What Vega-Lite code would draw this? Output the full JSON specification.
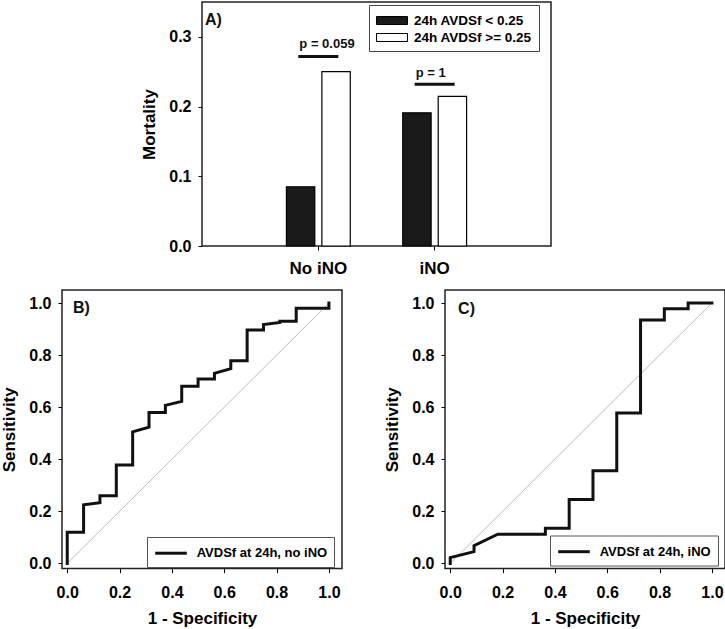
{
  "$schema": "https://vega.github.io/schema/vega-lite/v6.json",
  "padding": {"left": 0, "top": 1, "right": 0, "bottom": 0},
  "background": "white",
  "config": {
    "font": "Liberation Sans",
    "view": {"stroke": "#222222", "strokeWidth": 1.5},
    "axis": {
      "labelFont": "Liberation Sans", "labelFontWeight": "bold", "labelFontSize": 16, "labelColor": "black",
      "titleFont": "Liberation Sans", "titleFontWeight": "bold", "titleFontSize": 17, "titleColor": "black",
      "tickColor": "black", "tickSize": 4, "tickWidth": 1, "domain": false, "grid": false,
      "labelPadding": 7, "titlePadding": 10
    },
    "legend": {"labelFont": "Liberation Sans", "labelFontWeight": "bold", "labelColor": "black"}
  },
  "spacing": 12,
  "resolve": {"scale": {"fill": "independent", "stroke": "independent"}, "legend": {"fill": "independent", "stroke": "independent"}},
  "vconcat": [
    {
      "spacing": 0,
      "resolve": {"scale": {"fill": "independent"}, "legend": {"fill": "independent"}},
      "hconcat": [
        {"width": 78, "height": 10, "view": {"stroke": null}, "data": {"values": []}, "mark": {"type": "point", "opacity": 0}},
        {
          "width": 349, "height": 244,
          "title": {"text": "A)", "anchor": "start", "frame": "group", "orient": "top", "baseline": "middle",
                    "offset": -34, "dx": 3, "font": "Liberation Sans", "fontSize": 16, "fontWeight": "bold", "color": "#111111"},
          "layer": [
            {
              "data": {"values": [
                {"treatment": "No iNO", "group": "24h AVDSf < 0.25", "mortality": 0.085},
                {"treatment": "No iNO", "group": "24h AVDSf >= 0.25", "mortality": 0.25},
                {"treatment": "iNO", "group": "24h AVDSf < 0.25", "mortality": 0.191},
                {"treatment": "iNO", "group": "24h AVDSf >= 0.25", "mortality": 0.2145}
              ]},
              "mark": {"type": "bar", "stroke": "black", "strokeWidth": 1.2},
              "encoding": {
                "x": {"field": "treatment", "type": "nominal", "title": null,
                      "scale": {"domain": ["No iNO", "iNO"], "paddingInner": 0, "paddingOuter": 0.5},
                      "axis": {"labelAngle": 0, "labelFontSize": 17, "labelPadding": 10}},
                "xOffset": {"field": "group", "type": "nominal",
                      "scale": {"domain": ["24h AVDSf < 0.25", "24h AVDSf >= 0.25"], "paddingInner": 0.2, "paddingOuter": 0.74}},
                "y": {"field": "mortality", "type": "quantitative", "title": "Mortality",
                      "scale": {"domain": [0, 0.35], "nice": false},
                      "axis": {"values": [0, 0.1, 0.2, 0.3], "format": ".1f"}},
                "fill": {"field": "group", "type": "nominal",
                      "scale": {"domain": ["24h AVDSf < 0.25", "24h AVDSf >= 0.25"], "range": ["#1a1a1a", "#ffffff"]},
                      "legend": {"title": null, "orient": "none", "legendX": 167, "legendY": 3, "padding": 7,
                                 "strokeColor": "#444444", "fillColor": "white",
                                 "symbolType": "M-1,-0.5H2.875V0.5H-1Z", "symbolSize": 256,
                                 "symbolStrokeColor": "black", "symbolStrokeWidth": 1, "symbolOpacity": 1,
                                 "labelFontSize": 13.5, "labelOffset": 21, "rowPadding": 2}}
              }
            },
            {
              "data": {"values": [
                {"treatment": "No iNO", "line_y": 0.272, "label_y": 0.29, "label": "p = 0.059"},
                {"treatment": "iNO", "line_y": 0.232, "label_y": 0.248, "label": "p = 1"}
              ]},
              "mark": {"type": "tick", "thickness": 3, "size": 40, "color": "#111111", "opacity": 1},
              "encoding": {
                "x": {"field": "treatment", "type": "nominal", "title": null},
                "y": {"field": "line_y", "type": "quantitative", "title": "Mortality"}
              }
            },
            {
              "data": {"values": [
                {"treatment": "No iNO", "line_y": 0.272, "label_y": 0.29, "label": "p = 0.059"},
                {"treatment": "iNO", "line_y": 0.232, "label_y": 0.248, "label": "p = 1"}
              ]},
              "mark": {"type": "text", "align": "left", "baseline": "middle", "dx": -19, "fontSize": 13, "fontWeight": "bold", "font": "Liberation Sans", "color": "#111111"},
              "encoding": {
                "x": {"field": "treatment", "type": "nominal", "title": null},
                "y": {"field": "label_y", "type": "quantitative", "title": "Mortality"},
                "text": {"field": "label"}
              }
            }
          ]
        }
      ]
    },
    {
      "spacing": 40,
      "resolve": {"scale": {"stroke": "independent"}, "legend": {"stroke": "independent"}},
      "hconcat": [
        {
          "width": 280, "height": 278.6,
          "layer": [
            {
              "data": {"values": [{"fpr": 0, "tpr": 0}, {"fpr": 1, "tpr": 1}]},
              "mark": {"type": "line", "color": "#bdbdbd", "strokeWidth": 1},
              "encoding": {
                "x": {"field": "fpr", "type": "quantitative", "title": "1 - Specificity",
                      "scale": {"domain": [-0.02, 1.05], "nice": false, "zero": false},
                      "axis": {"values": [0, 0.2, 0.4, 0.6, 0.8, 1.0], "format": ".1f", "labelPadding": 12, "titlePadding": 10}},
                "y": {"field": "tpr", "type": "quantitative", "title": "Sensitivity",
                      "scale": {"domain": [-0.02, 1.05], "nice": false, "zero": false},
                      "axis": {"values": [0, 0.2, 0.4, 0.6, 0.8, 1.0], "format": ".1f"}}
              }
            },
            {
              "data": {"values": [
                {"i": 0, "fpr": 0, "tpr": 0, "series": "AVDSf at 24h, no iNO"},
                {"i": 1, "fpr": 0, "tpr": 0.12, "series": "AVDSf at 24h, no iNO"},
                {"i": 2, "fpr": 0.0625, "tpr": 0.12, "series": "AVDSf at 24h, no iNO"},
                {"i": 3, "fpr": 0.0625, "tpr": 0.225, "series": "AVDSf at 24h, no iNO"},
                {"i": 4, "fpr": 0.125, "tpr": 0.233, "series": "AVDSf at 24h, no iNO"},
                {"i": 5, "fpr": 0.125, "tpr": 0.26, "series": "AVDSf at 24h, no iNO"},
                {"i": 6, "fpr": 0.1875, "tpr": 0.26, "series": "AVDSf at 24h, no iNO"},
                {"i": 7, "fpr": 0.1875, "tpr": 0.378, "series": "AVDSf at 24h, no iNO"},
                {"i": 8, "fpr": 0.25, "tpr": 0.378, "series": "AVDSf at 24h, no iNO"},
                {"i": 9, "fpr": 0.25, "tpr": 0.505, "series": "AVDSf at 24h, no iNO"},
                {"i": 10, "fpr": 0.3125, "tpr": 0.523, "series": "AVDSf at 24h, no iNO"},
                {"i": 11, "fpr": 0.3125, "tpr": 0.58, "series": "AVDSf at 24h, no iNO"},
                {"i": 12, "fpr": 0.375, "tpr": 0.58, "series": "AVDSf at 24h, no iNO"},
                {"i": 13, "fpr": 0.375, "tpr": 0.607, "series": "AVDSf at 24h, no iNO"},
                {"i": 14, "fpr": 0.4375, "tpr": 0.622, "series": "AVDSf at 24h, no iNO"},
                {"i": 15, "fpr": 0.4375, "tpr": 0.68, "series": "AVDSf at 24h, no iNO"},
                {"i": 16, "fpr": 0.5, "tpr": 0.68, "series": "AVDSf at 24h, no iNO"},
                {"i": 17, "fpr": 0.5, "tpr": 0.708, "series": "AVDSf at 24h, no iNO"},
                {"i": 18, "fpr": 0.5625, "tpr": 0.708, "series": "AVDSf at 24h, no iNO"},
                {"i": 19, "fpr": 0.5625, "tpr": 0.73, "series": "AVDSf at 24h, no iNO"},
                {"i": 20, "fpr": 0.625, "tpr": 0.748, "series": "AVDSf at 24h, no iNO"},
                {"i": 21, "fpr": 0.625, "tpr": 0.778, "series": "AVDSf at 24h, no iNO"},
                {"i": 22, "fpr": 0.6875, "tpr": 0.778, "series": "AVDSf at 24h, no iNO"},
                {"i": 23, "fpr": 0.6875, "tpr": 0.896, "series": "AVDSf at 24h, no iNO"},
                {"i": 24, "fpr": 0.75, "tpr": 0.896, "series": "AVDSf at 24h, no iNO"},
                {"i": 25, "fpr": 0.75, "tpr": 0.917, "series": "AVDSf at 24h, no iNO"},
                {"i": 26, "fpr": 0.8125, "tpr": 0.925, "series": "AVDSf at 24h, no iNO"},
                {"i": 27, "fpr": 0.8125, "tpr": 0.93, "series": "AVDSf at 24h, no iNO"},
                {"i": 28, "fpr": 0.875, "tpr": 0.93, "series": "AVDSf at 24h, no iNO"},
                {"i": 29, "fpr": 0.875, "tpr": 0.98, "series": "AVDSf at 24h, no iNO"},
                {"i": 30, "fpr": 1.0, "tpr": 0.98, "series": "AVDSf at 24h, no iNO"},
                {"i": 31, "fpr": 1.0, "tpr": 1.0, "series": "AVDSf at 24h, no iNO"}
              ]},
              "mark": {"type": "line", "strokeWidth": 3, "strokeJoin": "miter", "strokeCap": "square"},
              "encoding": {
                "x": {"field": "fpr", "type": "quantitative", "title": "1 - Specificity"},
                "y": {"field": "tpr", "type": "quantitative", "title": "Sensitivity"},
                "order": {"field": "i", "type": "quantitative"},
                "stroke": {"field": "series", "type": "nominal", "scale": {"range": ["#111111"]},
                  "legend": {"title": null, "orient": "none", "legendX": 85, "legendY": 247, "padding": 6.7,
                             "strokeColor": "#555555", "fillColor": "white",
                             "symbolType": "M-1,0H2.95", "symbolSize": 256, "symbolStrokeWidth": 3,
                             "labelFontSize": 13, "labelOffset": 24}}
              }
            },
            {
              "data": {"values": [{"panel": "B)", "px": 0.022, "py": 0.98}]},
              "mark": {"type": "text", "align": "left", "baseline": "middle", "fontSize": 16, "fontWeight": "bold", "font": "Liberation Sans", "color": "#111111"},
              "encoding": {
                "x": {"field": "px", "type": "quantitative", "title": "1 - Specificity"},
                "y": {"field": "py", "type": "quantitative", "title": "Sensitivity"},
                "text": {"field": "panel"}
              }
            }
          ]
        },
        {
          "width": 280, "height": 278.6,
          "layer": [
            {
              "data": {"values": [{"fpr": 0, "tpr": 0}, {"fpr": 1, "tpr": 1}]},
              "mark": {"type": "line", "color": "#bdbdbd", "strokeWidth": 1},
              "encoding": {
                "x": {"field": "fpr", "type": "quantitative", "title": "1 - Specificity",
                      "scale": {"domain": [-0.02, 1.05], "nice": false, "zero": false},
                      "axis": {"values": [0, 0.2, 0.4, 0.6, 0.8, 1.0], "format": ".1f", "labelPadding": 12, "titlePadding": 10}},
                "y": {"field": "tpr", "type": "quantitative", "title": "Sensitivity",
                      "scale": {"domain": [-0.02, 1.05], "nice": false, "zero": false},
                      "axis": {"values": [0, 0.2, 0.4, 0.6, 0.8, 1.0], "format": ".1f"}}
              }
            },
            {
              "data": {"values": [
                {"i": 0, "fpr": 0, "tpr": 0, "series": "AVDSf at 24h, iNO"},
                {"i": 1, "fpr": 0, "tpr": 0.022, "series": "AVDSf at 24h, iNO"},
                {"i": 2, "fpr": 0.0909, "tpr": 0.045, "series": "AVDSf at 24h, iNO"},
                {"i": 3, "fpr": 0.0909, "tpr": 0.068, "series": "AVDSf at 24h, iNO"},
                {"i": 4, "fpr": 0.1818, "tpr": 0.112, "series": "AVDSf at 24h, iNO"},
                {"i": 5, "fpr": 0.3636, "tpr": 0.112, "series": "AVDSf at 24h, iNO"},
                {"i": 6, "fpr": 0.3636, "tpr": 0.135, "series": "AVDSf at 24h, iNO"},
                {"i": 7, "fpr": 0.4545, "tpr": 0.135, "series": "AVDSf at 24h, iNO"},
                {"i": 8, "fpr": 0.4545, "tpr": 0.245, "series": "AVDSf at 24h, iNO"},
                {"i": 9, "fpr": 0.5455, "tpr": 0.245, "series": "AVDSf at 24h, iNO"},
                {"i": 10, "fpr": 0.5455, "tpr": 0.356, "series": "AVDSf at 24h, iNO"},
                {"i": 11, "fpr": 0.6364, "tpr": 0.356, "series": "AVDSf at 24h, iNO"},
                {"i": 12, "fpr": 0.6364, "tpr": 0.578, "series": "AVDSf at 24h, iNO"},
                {"i": 13, "fpr": 0.7273, "tpr": 0.578, "series": "AVDSf at 24h, iNO"},
                {"i": 14, "fpr": 0.7273, "tpr": 0.935, "series": "AVDSf at 24h, iNO"},
                {"i": 15, "fpr": 0.8182, "tpr": 0.935, "series": "AVDSf at 24h, iNO"},
                {"i": 16, "fpr": 0.8182, "tpr": 0.978, "series": "AVDSf at 24h, iNO"},
                {"i": 17, "fpr": 0.9091, "tpr": 0.978, "series": "AVDSf at 24h, iNO"},
                {"i": 18, "fpr": 0.9091, "tpr": 1.0, "series": "AVDSf at 24h, iNO"},
                {"i": 19, "fpr": 1.0, "tpr": 1.0, "series": "AVDSf at 24h, iNO"}
              ]},
              "mark": {"type": "line", "strokeWidth": 3, "strokeJoin": "miter", "strokeCap": "square"},
              "encoding": {
                "x": {"field": "fpr", "type": "quantitative", "title": "1 - Specificity"},
                "y": {"field": "tpr", "type": "quantitative", "title": "Sensitivity"},
                "order": {"field": "i", "type": "quantitative"},
                "stroke": {"field": "series", "type": "nominal", "scale": {"range": ["#111111"]},
                  "legend": {"title": null, "orient": "none", "legendX": 105, "legendY": 245.5, "padding": 6.7,
                             "strokeColor": "#555555", "fillColor": "white",
                             "symbolType": "M-1,0H2.95", "symbolSize": 256, "symbolStrokeWidth": 3,
                             "labelFontSize": 13, "labelOffset": 24}}
              }
            },
            {
              "data": {"values": [{"panel": "C)", "px": 0.03, "py": 0.978}]},
              "mark": {"type": "text", "align": "left", "baseline": "middle", "fontSize": 16, "fontWeight": "bold", "font": "Liberation Sans", "color": "#111111"},
              "encoding": {
                "x": {"field": "px", "type": "quantitative", "title": "1 - Specificity"},
                "y": {"field": "py", "type": "quantitative", "title": "Sensitivity"},
                "text": {"field": "panel"}
              }
            }
          ]
        }
      ]
    }
  ]
}
